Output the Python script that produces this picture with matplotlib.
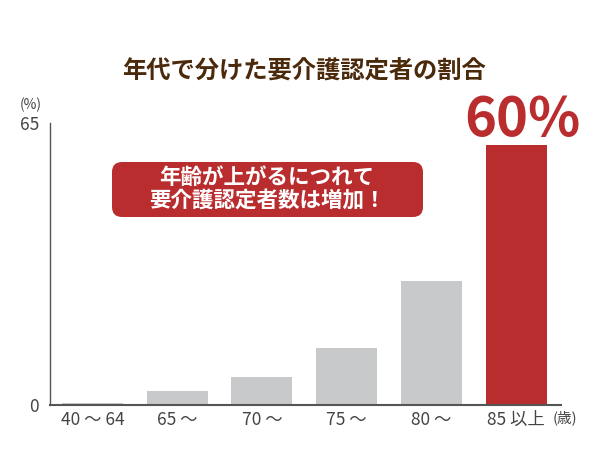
import matplotlib
matplotlib.use("Agg")
import matplotlib.pyplot as plt
from matplotlib.patches import FancyBboxPatch

plt.rcParams['font.family'] = ['Noto Sans CJK JP', 'DejaVu Sans']

categories = ["40 ～ 64", "65 ～", "70 ～", "75 ～", "80 ～", "85 以上"]
values = [0.4, 3.2, 6.5, 13.1, 28.6, 60.0]
highlight = [False, False, False, False, False, True]
title = "年代で分けた要介護認定者の割合"
callout = "年齢が上がるにつれて\n要介護認定者数は増加！"
big_label = "60%"

RED = "#b92d2f"
GRAY = "#c8c9ca"
BROWN = "#4b2a0c"
AXIS = "#555555"
TXT = "#444444"

fig = plt.figure(figsize=(6, 4.5), dpi=100)
ax = fig.add_axes([50/600, 1-405/450, (561-50)/600, (405-123)/450])

colors = [RED if h else GRAY for h in highlight]
x = list(range(len(categories)))
ax.bar(x, values, width=0.72, color=colors, zorder=2)

ax.set_ylim(0, 65)
ax.set_xlim(-0.5, 5.53)
ax.set_yticks([0, 65])
ax.set_yticklabels(["0", "65"], fontsize=12.5, color=TXT)
ax.set_xticks(x)
ax.set_xticklabels(categories, fontsize=12.5, color=TXT)
ax.tick_params(axis='both', length=0, pad=4)
ax.tick_params(axis='y', pad=8)
for s in ["top", "right"]:
    ax.spines[s].set_visible(False)
ax.spines["left"].set_color(AXIS)
ax.spines["bottom"].set_color(AXIS)
ax.spines["left"].set_linewidth(1.0)
ax.spines["bottom"].set_linewidth(1.5)

fig.text(31/600, 1-105/450, "(%)", fontsize=10, color=TXT, ha='center', va='center')
fig.text(565/600, 1-418/450, "(歳)", fontsize=10.5, color=TXT, ha='center', va='center')

fig.text(304/600, 1-72/450, title, fontsize=17.5, fontweight='bold', color=BROWN,
         ha='center', va='center')

ax.text(5.07, values[-1] - 0.8, big_label, fontsize=39, fontweight='bold', color=RED,
        ha='center', va='bottom')

box = FancyBboxPatch((1.12, 4.5-2.17), 3.11, 0.55,
                     boxstyle="round,pad=0,rounding_size=0.1",
                     transform=fig.dpi_scale_trans, facecolor=RED, edgecolor='none')
fig.patches.append(box)
fig.text(267/600, 1-189/450, callout, fontsize=15.5, fontweight='bold', color='white',
         ha='center', va='center', linespacing=1.15)

fig.savefig("out.png", dpi=100, facecolor='white')
